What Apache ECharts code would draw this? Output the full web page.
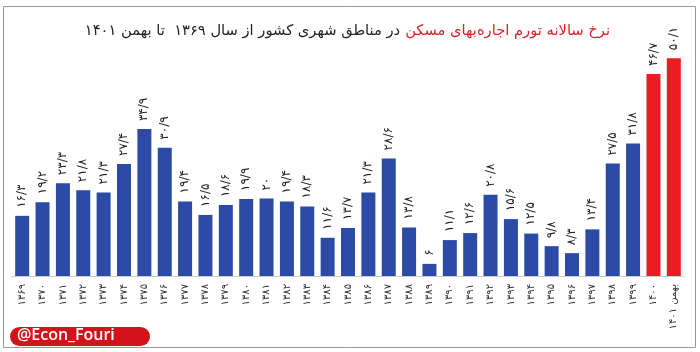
<!DOCTYPE html>
<html><head><meta charset="utf-8">
<script src="https://cdn.jsdelivr.net/npm/echarts@6/dist/echarts.min.js"></script>
<style>html,body{margin:0;padding:0;background:#fff}#c{width:700px;height:352px}</style>
</head><body><div id="c"></div>
<script>
const categories = ['۱۳۶۹','۱۳۷۰','۱۳۷۱','۱۳۷۲','۱۳۷۳','۱۳۷۴','۱۳۷۵','۱۳۷۶','۱۳۷۷','۱۳۷۸','۱۳۷۹','۱۳۸۰','۱۳۸۱','۱۳۸۲','۱۳۸۳','۱۳۸۴','۱۳۸۵','۱۳۸۶','۱۳۸۷','۱۳۸۸','۱۳۸۹','۱۳۹۰','۱۳۹۱','۱۳۹۲','۱۳۹۳','۱۳۹۴','۱۳۹۵','۱۳۹۶','۱۳۹۷','۱۳۹۸','۱۳۹۹','۱۴۰۰','بهمن ۱۴۰۱'];
const values = [16.3,19.2,23.3,21.8,21.3,27.4,34.9,30.9,19.4,16.5,18.6,19.9,20,19.4,18.3,11.6,13.7,21.3,28.6,13.8,6,11.1,12.6,20.8,15.6,12.5,9.8,8.3,13.4,27.5,31.8,46.7,50.1];
const highlighted = [31, 32];
const titleBlack = 'در مناطق شهری کشور از سال ۱۳۶۹  تا بهمن ۱۴۰۱';
const titleRed = 'نرخ سالانه تورم اجاره‌بهای مسکن';
const badgeText = '@Econ_Fouri';

const fa = s => String(s).replace(/\d/g, d => '۰۱۲۳۴۵۶۷۸۹'[d]).replace('.', '/');
const chart = echarts.init(document.getElementById('c'));
chart.setOption({
  animation: false,
  grid: {left: 12, right: 16, top: 40, bottom: 76},
  title: {
    text: '{b|' + titleBlack + '} {r|' + titleRed + '}',
    right: 85, top: 17,
    textStyle: {rich: {
      b: {color: '#222', fontSize: 14.7, fontWeight: 'normal', fontFamily: 'DejaVu Sans'},
      r: {color: '#e0202a', fontSize: 14.7, fontWeight: 'normal', fontFamily: 'DejaVu Sans'}
    }}
  },
  xAxis: {
    type: 'category', data: categories,
    axisLine: {show: true, lineStyle: {color: '#ccc'}},
    axisTick: {show: false},
    axisLabel: {rotate: 90, interval: 0, fontSize: 10, color: '#333', margin: 8, fontFamily: 'DejaVu Sans'}
  },
  yAxis: {type: 'value', min: 3.4, max: 54, show: false, splitLine: {show: false}},
  series: [{
    type: 'bar', barWidth: 14,
    data: values.map((v, i) => ({value: v, itemStyle: {color: highlighted.includes(i) ? '#ec1c24' : '#2b4ba6'}})),
    label: {
      show: true, position: 'top', rotate: 90, align: 'left', verticalAlign: 'middle', distance: 8,
      fontSize: 12, color: '#222', fontFamily: 'DejaVu Sans',
      formatter: p => fa(p.value)
    }
  }],
  graphic: [
    {type: 'rect', shape: {x: 3.5, y: 6.5, width: 692, height: 341}, style: {fill: 'none', stroke: '#999', lineWidth: 1}, silent: true},
    {type: 'rect', shape: {x: 10, y: 327, width: 140, height: 19, r: 9.5}, style: {fill: '#d3131b'}},
    {type: 'text', left: 17, top: 327, style: {text: badgeText, fill: '#fff', font: '600 16px "Open Sans"'}}
  ]
});
</script></body></html>
